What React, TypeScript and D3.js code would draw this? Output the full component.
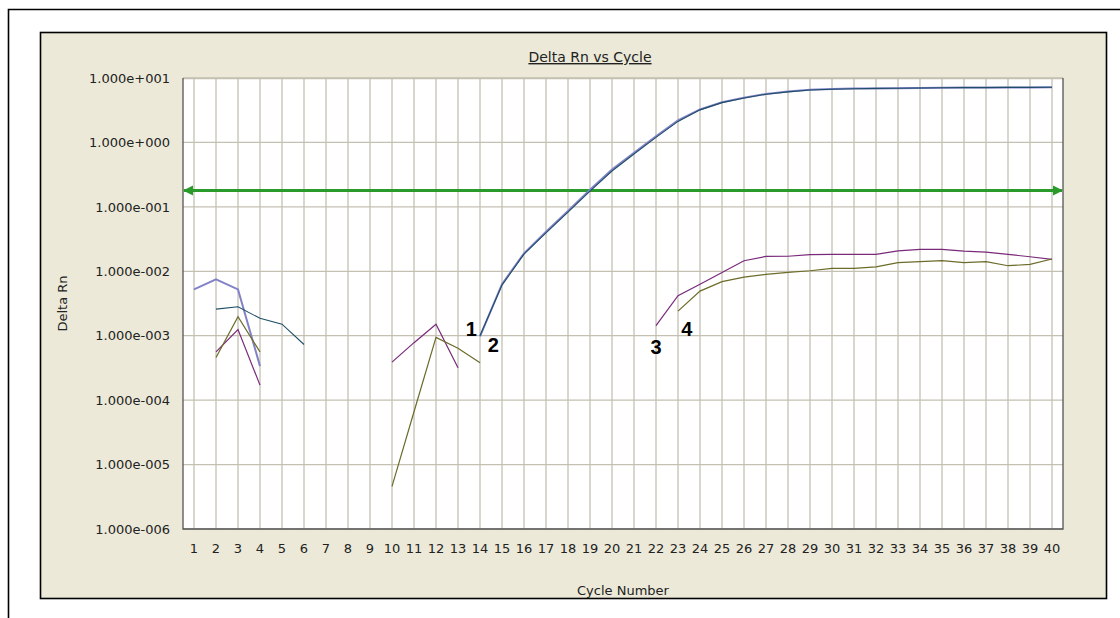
import React from "react";
import { scaleLinear, scaleLog, line, range } from "d3";

// cycles 1..40, null = not plotted (no positive value)
const cycles = range(1, 41);
const yTicks = [1e1, 1e0, 1e-1, 1e-2, 1e-3, 1e-4, 1e-5, 1e-6];
const yTickLabels = ["1.000e+001", "1.000e+000", "1.000e-001", "1.000e-002", "1.000e-003", "1.000e-004", "1.000e-005", "1.000e-006"];
const threshold = 0.18;

const N = null;
// sample 1 (teal / navy)
const sample1 = [N, 2.59e-3, 2.81e-3, 1.86e-3, 1.51e-3, 7.3e-4, N, N, N, N, N, N, N,
  1.0e-3, 6.1e-3, 0.0185, 0.0395, 0.083, 0.175, 0.36, 0.66, 1.2, 2.12, 3.2, 4.15, 4.9, 5.6,
  6.1, 6.5, 6.7, 6.8, 6.9, 6.95, 7.0, 7.05, 7.1, 7.1, 7.15, 7.15, 7.2];
// sample 2 (lavender blue)
const sample2 = [5.24e-3, 7.48e-3, 5.24e-3, 3.37e-4, N, N, N, N, N, N, N, N, N,
  9.8e-4, 6.3e-3, 0.019, 0.041, 0.086, 0.185, 0.38, 0.69, 1.25, 2.2, 3.25, 4.2, 4.95, 5.65,
  6.15, 6.55, 6.75, 6.85, 6.9, 6.95, 7.0, 7.05, 7.1, 7.1, 7.15, 7.15, 7.2];
// sample 3 (purple)
const sample3 = [N, 5.6e-4, 1.25e-3, 1.71e-4, N, N, N, N, N, 3.89e-4, 7.8e-4, 1.51e-3, 3.18e-4,
  N, N, N, N, N, N, N, N, 1.43e-3, 4.17e-3, 6.3e-3, 9.6e-3, 0.0146, 0.017, 0.0171, 0.0181,
  0.0183, 0.0183, 0.0183, 0.0208, 0.0219, 0.0219, 0.0206, 0.0199, 0.0183, 0.0168, 0.0153];
// sample 4 (olive)
const sample4 = [N, 4.6e-4, 1.97e-3, 5.6e-4, N, N, N, N, N, 4.6e-6, 6.6e-5, 9.4e-4, 6.4e-4,
  3.8e-4, N, N, N, N, N, N, N, N, 2.41e-3, 4.93e-3, 6.9e-3, 8.1e-3, 8.95e-3, 9.6e-3, 0.0102,
  0.0111, 0.0111, 0.0117, 0.0136, 0.0141, 0.0146, 0.0136, 0.0141, 0.0122, 0.0128, 0.0155];

const seriesList = [
  { name: "2", values: sample2, color: "#8282C8", width: 2 },
  { name: "1", values: sample1, color: "#1F4F68", width: 1.1 },
  { name: "3", values: sample3, color: "#7A2A7A", width: 1.2 },
  { name: "4", values: sample4, color: "#6B6B2A", width: 1.2 },
];

// curve number labels: [text, cycle, value]
const curveLabels: [string, number, number][] = [
  ["1", 13.6, 1.3e-3],
  ["2", 14.6, 7.2e-4],
  ["3", 22.0, 6.8e-4],
  ["4", 23.4, 1.3e-3],
];

const font = "'DejaVu Sans', Verdana, sans-serif";

export default function App() {
  const left = 183, right = 1063, top = 78, bottom = 529;
  const x = scaleLinear().domain([0.5, 40.5]).range([left, right]);
  const y = scaleLog().domain([1e-6, 10]).range([bottom, top]);
  const gen = line<number | null>()
    .defined((d) => d != null)
    .x((_, i) => x(cycles[i]))
    .y((d) => y(d as number));
  const ty = y(threshold);
  const grid = "#C4C0B2";

  return (
    <svg width={1120} height={618} style={{ position: "absolute", left: 0, top: 0 }} fontFamily={font}>
      <defs>
        <marker id="arr" viewBox="0 0 10 10" refX="9" refY="5" markerWidth="3.5" markerHeight="3.5" orient="auto-start-reverse">
          <path d="M0,0 L10,5 L0,10 z" fill="#2A9A2A" />
        </marker>
      </defs>
      <rect width={1120} height={618} fill="#fff" />
      {/* outer frame */}
      <path d="M8.5,640 V9.5 H1130" fill="none" stroke="#000" strokeWidth={1.6} />
      {/* panel */}
      <rect x={40.5} y={32.5} width={1066} height={566} fill="#ECE9D8" stroke="#000" strokeWidth={1.6} />
      <text x={590} y={62} textAnchor="middle" fontSize={14} fill="#222" textDecoration="underline">Delta Rn vs Cycle</text>

      {/* plot area */}
      <rect x={left} y={top} width={right - left} height={bottom - top} fill="#fff" />
      {cycles.map((c) => (
        <line key={"v" + c} x1={x(c)} x2={x(c)} y1={top} y2={bottom} stroke={grid} strokeWidth={1.3} />
      ))}
      {yTicks.map((t) => (
        <line key={"h" + t} x1={left} x2={right} y1={y(t)} y2={y(t)} stroke={grid} strokeWidth={1.3} />
      ))}
      <line x1={left} x2={right} y1={top + 0.5} y2={top + 0.5} stroke={grid} strokeWidth={1.3} />
      <path d={`M${left},${top} V${bottom} H${right} V${top}`} fill="none" stroke="#555" strokeWidth={1.3} />

      {/* y ticks */}
      {yTicks.map((t, i) => (
        <text key={"yl" + t} x={170} y={y(t)} dy="0.36em" textAnchor="end" fontSize={13} fill="#222">{yTickLabels[i]}</text>
      ))}
      {/* x ticks */}
      {cycles.map((c) => (
        <text key={"xl" + c} x={x(c)} y={553} textAnchor="middle" fontSize={13} fill="#222">{c}</text>
      ))}
      <text x={(left + right) / 2} y={595} textAnchor="middle" fontSize={13} fill="#222">Cycle Number</text>
      <text transform={`translate(67,${(top + bottom) / 2}) rotate(-90)`} textAnchor="middle" fontSize={13} fill="#222">Delta Rn</text>

      {/* threshold */}
      <line x1={left + 1} x2={right - 1} y1={ty} y2={ty} stroke="#2A9A2A" strokeWidth={3}
        markerStart="url(#arr)" markerEnd="url(#arr)" />

      {/* amplification curves */}
      {seriesList.map((s) => (
        <path key={s.name} d={gen(s.values) || ""} fill="none" stroke={s.color} strokeWidth={s.width} />
      ))}

      {curveLabels.map(([t, c, v]) => (
        <text key={"cl" + t} x={x(c)} y={y(v)} dy="0.36em" textAnchor="middle" fontSize={20} fontWeight="bold"
          fontFamily="'Liberation Sans', Arial, sans-serif" fill="#000">{t}</text>
      ))}
    </svg>
  );
}
